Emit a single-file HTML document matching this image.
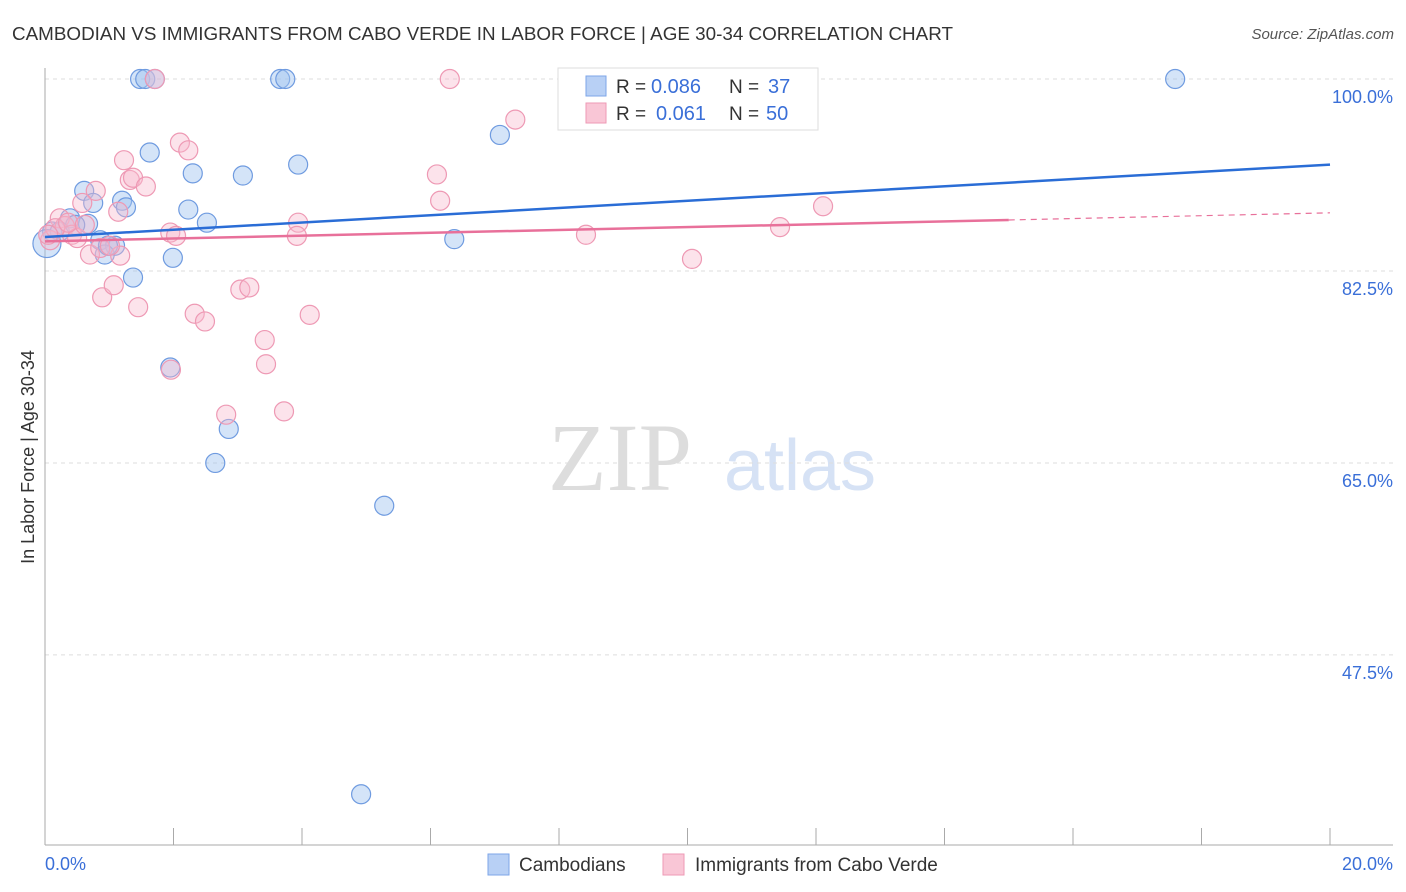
<!DOCTYPE html>
<html><head><meta charset="utf-8"><style>
body{margin:0;background:#fff;font-family:"Liberation Sans",sans-serif;}
svg{display:block}
</style></head><body>
<svg id="chart" width="1406" height="892">
<text x="12" y="40" font-size="18" fill="#333" textLength="941" lengthAdjust="spacingAndGlyphs">CAMBODIAN VS IMMIGRANTS FROM CABO VERDE IN LABOR FORCE | AGE 30-34 CORRELATION CHART</text>
<text x="1394" y="39" font-size="15" fill="#555" font-style="italic" text-anchor="end">Source: ZipAtlas.com</text>
<text x="620" y="490" font-size="96" fill="#ddd" font-family="Liberation Serif" text-anchor="middle">ZIP</text>
<text x="800" y="490" font-size="72" fill="#d6e2f5" text-anchor="middle">atlas</text>
<text transform="translate(34,457) rotate(-90)" font-size="18" fill="#333" text-anchor="middle">In Labor Force | Age 30-34</text>
<g id="grid"></g><g id="pts"></g><g id="lines"></g>
<g>
<rect x="558" y="68" width="260" height="62" fill="#fff" stroke="#ddd"/>
<rect x="586" y="76" width="20" height="20" fill="#b8d0f5" stroke="#7ea6e8"/>
<rect x="586" y="103" width="20" height="20" fill="#f9c6d6" stroke="#ee9ab5"/>
<text x="616" y="93" font-size="19" fill="#333">R =</text>
<text x="651" y="93" font-size="20" fill="#3a6fd8">0.086</text>
<text x="729" y="93" font-size="19" fill="#333">N =</text>
<text x="768" y="93" font-size="20" fill="#3a6fd8">37</text>
<text x="616" y="120" font-size="19" fill="#333">R =</text>
<text x="656" y="120" font-size="20" fill="#3a6fd8">0.061</text>
<text x="729" y="120" font-size="19" fill="#333">N =</text>
<text x="766" y="120" font-size="20" fill="#3a6fd8">50</text>
</g>
<g>
<rect x="488" y="854" width="21" height="21" fill="#b8d0f5" stroke="#7ea6e8"/>
<text x="519" y="871" font-size="19" fill="#333">Cambodians</text>
<rect x="663" y="854" width="21" height="21" fill="#f9c6d6" stroke="#ee9ab5"/>
<text x="695" y="871" font-size="19" fill="#333">Immigrants from Cabo Verde</text>
</g>
</svg>
<script>
const yTicks=[100,82.5,65,47.5];
const yTickLabels=["100.0%","82.5%","65.0%","47.5%"];
const blueX=[1.48,1.56,1.71,3.66,3.74,8.64,17.59,7.08,1.63,3.94,2.30,3.08,0.61,1.20,1.26,0.75,2.23,2.52,0.67,0.39,0.11,0.23,0.86,1.09,0.93,1.99,1.37,6.37,1.95,2.86,2.65,5.28,4.92,0.03,0.47,0.98];
const blueY=[100,100,100,100,100,100,100,94.9,93.3,92.2,91.4,91.2,89.8,88.9,88.3,88.7,88.1,86.9,86.8,87.3,86.1,86.1,85.3,84.8,84.0,83.7,81.9,85.4,73.7,68.1,65.0,61.1,34.8,85.0,86.7,84.8];
const pinkX=[1.71,6.30,7.32,2.10,2.23,1.23,1.32,1.37,1.57,0.79,0.58,1.14,6.10,6.15,3.94,3.92,1.95,2.04,8.42,11.44,12.11,10.07,0.23,0.31,0.42,0.50,0.08,0.70,1.17,0.89,1.07,1.45,3.04,3.18,2.33,2.49,4.12,3.42,3.44,1.96,2.82,3.72,0.16,0.36,0.62,0.86,0.05,1.01];
const pinkY=[100,100,96.3,94.2,93.5,92.6,90.8,91.0,90.2,89.8,88.7,87.9,91.3,88.9,86.9,85.7,86.0,85.7,85.8,86.5,88.4,83.6,87.3,86.6,85.8,85.5,85.3,84.0,83.9,80.1,81.2,79.2,80.8,81.0,78.6,77.9,78.5,76.2,74.0,73.5,69.4,69.7,86.4,86.9,86.7,84.6,85.8,84.8];
const blueTrend=[85.6,92.2];
const pinkTrend=[85.2,87.8];
const NS="http://www.w3.org/2000/svg";
const X=v=>45+v*64.25, Y=v=>79+(100-v)*10.97;
function mk(tag,at,parent){const e=document.createElementNS(NS,tag);for(const k in at)e.setAttribute(k,at[k]);document.getElementById(parent).appendChild(e);return e;}
yTicks.forEach((t,i)=>{
 const l=mk('line',{x1:45,x2:1393,y1:Y(t),y2:Y(t),stroke:'#ddd','stroke-dasharray':'4,4'},'grid');
 
 
 const tx=mk('text',{x:1393,y:Y(t)+24,'font-size':18,fill:'#3a6fd8','text-anchor':'end'},'grid');
 tx.textContent=yTickLabels[i];
 
 
});
const ya=mk('line',{x1:45,x2:45,y1:68,y2:845,stroke:'#aaa'},'grid');


const xa=mk('line',{x1:45,x2:1393,y1:845,y2:845,stroke:'#aaa'},'grid');


for(let i=1;i<=10;i++){
 const t=mk('line',{x1:X(i*2),x2:X(i*2),y1:828,y2:845,stroke:'#aaa'},'grid');
 
 
}
const xl0=mk('text',{x:45,y:870,'font-size':18,fill:'#3a6fd8'},'grid');xl0.textContent='0.0%';


const xl1=mk('text',{x:1393,y:870,'font-size':18,fill:'#3a6fd8','text-anchor':'end'},'grid');xl1.textContent='20.0%';


blueX.forEach((v,i)=>{
 const c=mk('circle',{cx:X(v),cy:Y(blueY[i]),r:(i==33?14:9.5),fill:'rgba(160,195,240,0.45)',stroke:'#6f9be0','stroke-width':1.2},'pts');
 
 
});
pinkX.forEach((v,i)=>{
 const c=mk('circle',{cx:X(v),cy:Y(pinkY[i]),r:9.5,fill:'rgba(248,185,205,0.4)',stroke:'#ee99b4','stroke-width':1.2},'pts');
 
 
});
const bl=mk('line',{x1:X(0),y1:Y(blueTrend[0]),x2:X(20),y2:Y(blueTrend[1]),stroke:'#2a6dd6','stroke-width':2.5},'lines');


const pm=pinkTrend[0]+(pinkTrend[1]-pinkTrend[0])*0.75;
const pl=mk('line',{x1:X(0),y1:Y(pinkTrend[0]),x2:X(15),y2:Y(pm),stroke:'#e8709a','stroke-width':2.5},'lines');


const pd=mk('line',{x1:X(15),y1:Y(pm),x2:X(20),y2:Y(pinkTrend[1]),stroke:'#e8709a','stroke-width':1.2,'stroke-dasharray':'6,5'},'lines');


</script>
</body></html>
